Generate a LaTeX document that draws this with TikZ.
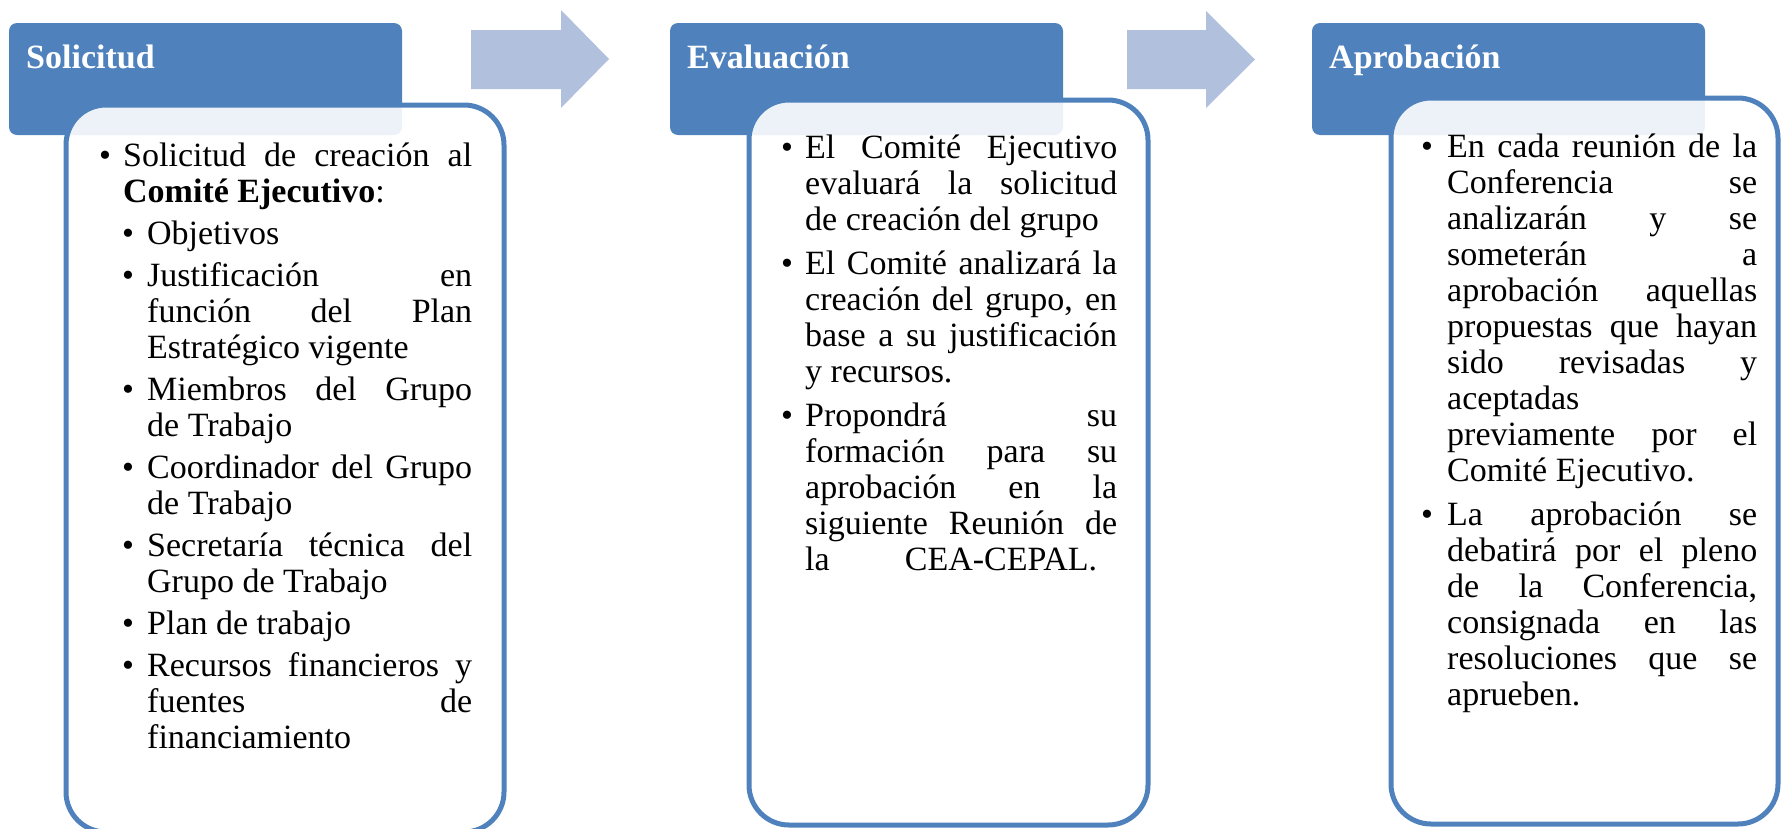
\documentclass[tikz,border=0pt]{standalone}
\usepackage{fontspec}
\setmainfont{Liberation Serif}
\definecolor{hblue}{RGB}{79,129,189}
\definecolor{arrowblue}{RGB}{176,192,221}
\tikzset{
 hdr/.style={fill=hblue, draw=none, rounded corners=8pt, anchor=north west, minimum width=393pt, minimum height=112pt, inner sep=0pt, outer sep=0pt},
 card/.style={draw=hblue, line width=5pt, fill=white, fill opacity=0.9, draw opacity=1, rounded corners=40pt, anchor=north west, inner sep=0pt, outer sep=0pt},
 htxt/.style={anchor=base west, inner sep=0pt, text=white, font=\fontsize{34pt}{36pt}\selectfont\bfseries},
 txt/.style={anchor=base west, inner sep=0pt, font=\fontsize{34pt}{36pt}\selectfont},
 bul/.style={anchor=base, inner sep=0pt, font=\fontsize{34pt}{36pt}\selectfont},
 barrow/.style={fill=arrowblue, draw=none}
}
\newcommand\TLine[4]{\node[txt] (#1) at (#2,#3) {#4};}
\newcommand\TJust[5]{\node[txt] (#1) at (#2,#3) {\makebox[#4pt][s]{#5}};}
\newcommand\TBul[3]{\node[bul] (#1) at (#2,#3) {\textbullet};}
\begin{document}
\begin{tikzpicture}[x=1pt,y=-1pt]
\useasboundingbox (0,0) rectangle (1781,828);
\clip (0,0) rectangle (1781,828);
% headers
\node[hdr] (h1) at (9,23) {};
\node[hdr] (h2) at (670,23) {};
\node[hdr] (h3) at (1312,23) {};
% cards
\node[card, minimum width=438pt, minimum height=727pt] (c1) at (66,105) {};
\node[card, minimum width=399pt, minimum height=725pt] (c2) at (749,100) {};
\node[card, minimum width=387pt, minimum height=726pt] (c3) at (1391,98) {};
% arrows
\fill[barrow] (471,30) -- (561,30) -- (561,10) -- (609,59) -- (561,108) -- (561,89) -- (471,89) -- cycle;
\fill[barrow] (1127,30) -- (1206,30) -- (1206,11) -- (1255,59.5) -- (1206,108) -- (1206,89) -- (1127,89) -- cycle;
% header texts
\node[htxt] (ht1) at (26,68) {Solicitud};
\node[htxt] (ht2) at (687,68) {Evaluación};
\node[htxt] (ht3) at (1329,68) {Aprobación};
% box 1
\TBul{b1a}{105}{166}
\TJust{a01}{123}{166}{349}{Solicitud de creación al}
\TLine{a02}{123}{202}{\textbf{Comité Ejecutivo}:}
\TBul{b1b}{128}{244}
\TLine{a03}{147}{244}{Objetivos}
\TBul{b1c}{128}{286}
\TJust{a04}{147}{286}{325}{Justificación en}
\TJust{a05}{147}{322}{325}{función del Plan}
\TLine{a06}{147}{358}{Estratégico vigente}
\TBul{b1d}{128}{400}
\TJust{a07}{147}{400}{325}{Miembros del Grupo}
\TLine{a08}{147}{436}{de Trabajo}
\TBul{b1e}{128}{478}
\TJust{a09}{147}{478}{325}{Coordinador del Grupo}
\TLine{a10}{147}{514}{de Trabajo}
\TBul{b1f}{128}{556}
\TJust{a11}{147}{556}{325}{Secretaría técnica del}
\TLine{a12}{147}{592}{Grupo de Trabajo}
\TBul{b1g}{128}{634}
\TLine{a13}{147}{634}{Plan de trabajo}
\TBul{b1h}{128}{676}
\TJust{a14}{147}{676}{325}{Recursos financieros y}
\TJust{a15}{147}{712}{325}{fuentes de}
\TLine{a16}{147}{748}{financiamiento}
% box 2
\TBul{b2a}{787}{158}
\TJust{e01}{805}{158}{312}{El Comité Ejecutivo}
\TJust{e02}{805}{194}{312}{evaluará la solicitud}
\TLine{e03}{805}{230}{de creación del grupo}
\TBul{b2b}{787}{274}
\TJust{e04}{805}{274}{312}{El Comité analizará la}
\TJust{e05}{805}{310}{312}{creación del grupo, en}
\TJust{e06}{805}{346}{312}{base a su justificación}
\TLine{e07}{805}{382}{y recursos.}
\TBul{b2c}{787}{426}
\TJust{e08}{805}{426}{312}{Propondrá su}
\TJust{e09}{805}{462}{312}{formación para su}
\TJust{e10}{805}{498}{312}{aprobación en la}
\TJust{e11}{805}{534}{312}{siguiente Reunión de}
\TJust{e12}{805}{570}{292}{la CEA-CEPAL.}
% box 3
\TBul{b3a}{1427}{157}
\TJust{p01}{1447}{157}{310}{En cada reunión de la}
\TJust{p02}{1447}{193}{310}{Conferencia se}
\TJust{p03}{1447}{229}{310}{analizarán y se}
\TJust{p04}{1447}{265}{310}{someterán a}
\TJust{p05}{1447}{301}{310}{aprobación aquellas}
\TJust{p06}{1447}{337}{310}{propuestas que hayan}
\TJust{p07}{1447}{373}{310}{sido revisadas y}
\TLine{p08}{1447}{409}{aceptadas}
\TJust{p09}{1447}{445}{310}{previamente por el}
\TLine{p10}{1447}{481}{Comité Ejecutivo.}
\TBul{b3b}{1427}{525}
\TJust{p11}{1447}{525}{310}{La aprobación se}
\TJust{p12}{1447}{561}{310}{debatirá por el pleno}
\TJust{p13}{1447}{597}{310}{de la Conferencia,}
\TJust{p14}{1447}{633}{310}{consignada en las}
\TJust{p15}{1447}{669}{310}{resoluciones que se}
\TLine{p16}{1447}{705}{aprueben.}
\end{tikzpicture}
\end{document}
